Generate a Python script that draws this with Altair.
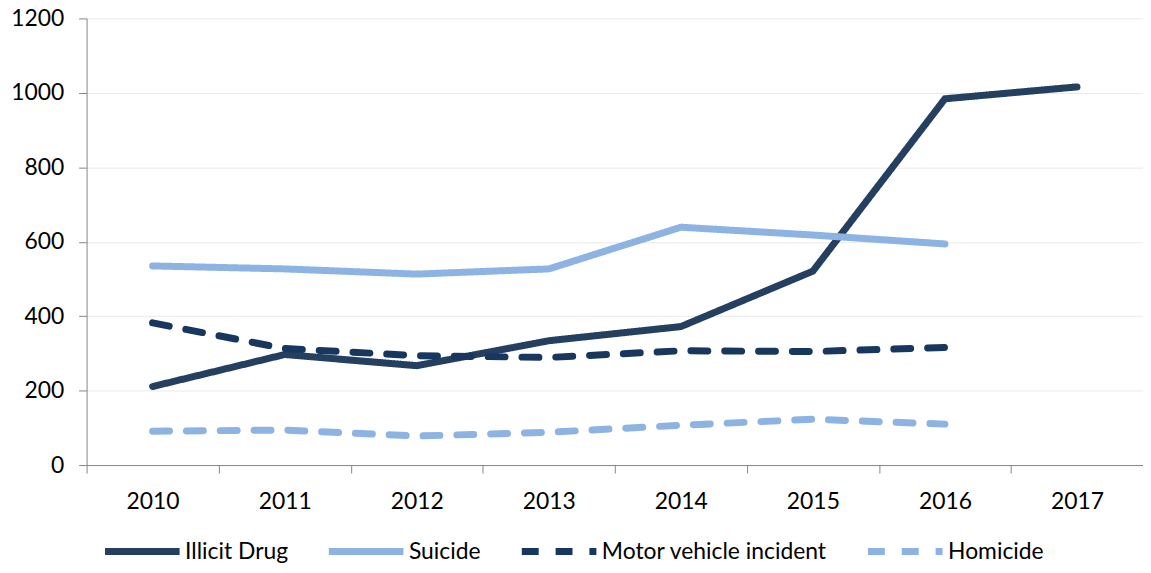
import altair as alt
import pandas as pd

years = ["2010", "2011", "2012", "2013", "2014", "2015", "2016", "2017"]
series_names = ["Illicit Drug", "Suicide", "Motor vehicle incident", "Homicide"]
illicit_drug = [211, 297, 267, 334, 372, 521, 984, 1016]
suicide = [535, 527, 513, 527, 639, 618, 594]
motor_vehicle = [382, 313, 294, 289, 307, 305, 316]
homicide = [91, 94, 78, 88, 107, 123, 110]
y_ticks = [0, 200, 400, 600, 800, 1000, 1200]

colors = ["#243F60", "#8DB3E2", "#17375E", "#8DB3E2"]
dashes = [[1, 0], [1, 0], [17, 17], [17, 17]]

rows = []
for name, vals in zip(series_names, [illicit_drug, suicide, motor_vehicle, homicide]):
    for i, v in enumerate(vals):
        rows.append({"year": years[i], "series": name, "value": v, "order": i})
df = pd.DataFrame(rows)

FONT = "Lato"
FS = 23

legend_kw = dict(title=None, orient="none", direction="horizontal",
                 legendX=15, legendY=495, symbolType="stroke",
                 symbolSize=5625, symbolStrokeWidth=7,
                 labelFontSize=FS, labelFont=FONT, labelColor="#000000",
                 labelOffset=2, columnPadding=26, labelLimit=400)

chart = alt.Chart(df).mark_line(strokeWidth=7, strokeCap="round").encode(
    x=alt.X("year:N", sort=years,
            scale=alt.Scale(type="band", paddingInner=0, paddingOuter=0),
            axis=alt.Axis(title=None, labelAngle=0, tickBand="extent", grid=False,
                          domainColor="#868686", tickColor="#868686", tickSize=8,
                          labelFontSize=FS, labelFont=FONT, labelColor="#000000",
                          labelPadding=18)),
    y=alt.Y("value:Q",
            scale=alt.Scale(domain=[0, 1200], nice=False),
            axis=alt.Axis(title=None, values=y_ticks, grid=True, gridColor="#EAEAEA",
                          domainColor="#868686", tickColor="#868686", tickSize=8,
                          labelFontSize=FS, labelFont=FONT, labelColor="#000000",
                          labelPadding=15, format="d")),
    color=alt.Color("series:N", sort=series_names,
                    scale=alt.Scale(domain=series_names, range=colors),
                    legend=alt.Legend(**legend_kw)),
    strokeDash=alt.StrokeDash("series:N", sort=series_names,
                              scale=alt.Scale(domain=series_names, range=dashes),
                              legend=alt.Legend(**legend_kw)),
    detail="series:N",
    order="order:Q",
).properties(
    width=1062,
    height=449,
    autosize=alt.AutoSizeParams(type="none"),
    padding={"left": 79, "top": 9, "right": 0, "bottom": 99},
).configure_view(stroke=None)

chart.save("out.html", embed_options={"renderer": "svg", "actions": False})
